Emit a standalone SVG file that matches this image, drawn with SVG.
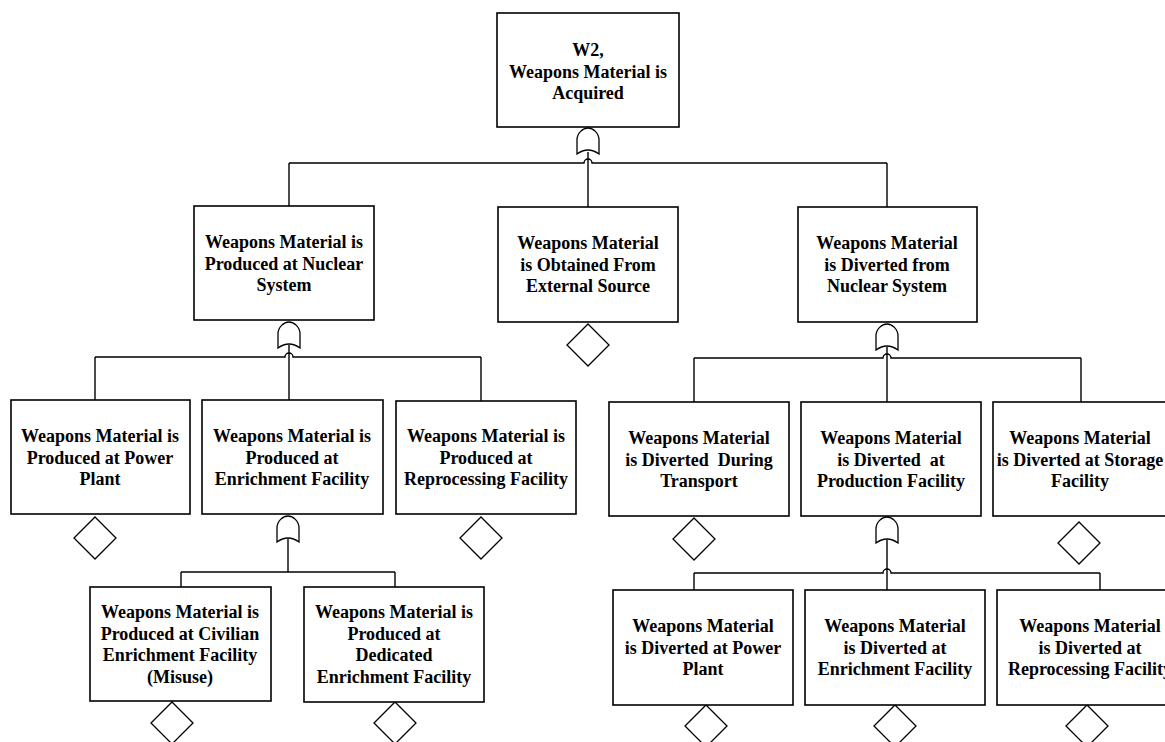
<svg xmlns="http://www.w3.org/2000/svg" width="1165" height="742" viewBox="0 0 1165 742">
  <defs>
    <style>
      .box { fill: #fff; stroke: #000; stroke-width: 1.6; }
      .gate { fill: #fff; stroke: #000; stroke-width: 1.3; }
      .diamond { fill: #fff; stroke: #000; stroke-width: 1.3; }
      .wire { fill: none; stroke: #000; stroke-width: 1.4; }
      .lbl { font-family: "Liberation Serif", "Times New Roman", serif; font-weight: bold; font-size: 18px; fill: #000; text-anchor: middle; white-space: pre; }
    </style>
    <!-- OR gate, origin at its apex -->
    <path id="orgate" d="M -11,26 L -11,12 C -11,5 -5,0 0,0 C 5,0 11,5 11,12 L 11,26 Q 0,18 -11,26 Z"/>
    <!-- undeveloped event diamond, centred on origin -->
    <path id="undev" d="M 0,-21 L 21,0 L 0,21 L -21,0 Z"/>
  </defs>
  <rect width="1165" height="742" fill="#fff"/>

  <!-- connectors -->
  <g id="connectors" class="wire">
    <!-- top OR gate -->
    <path d="M 289,163 H 584 A 4 4 0 0 1 592,163 H 887"/>
    <path d="M 588,152 V 207"/>
    <path d="M 289,163 V 206"/>
    <path d="M 887,163 V 207"/>
    <!-- produced at nuclear system -->
    <path d="M 95,357 H 285 A 4 4 0 0 1 293,357 H 481"/>
    <path d="M 289,345 V 401"/>
    <path d="M 95,357 V 400"/>
    <path d="M 481,357 V 401"/>
    <!-- diverted from nuclear system -->
    <path d="M 694,358 H 883 A 4 4 0 0 1 891,358 H 1081"/>
    <path d="M 887,347 V 402"/>
    <path d="M 694,358 V 402"/>
    <path d="M 1081,358 V 402"/>
    <!-- produced at enrichment facility -->
    <path d="M 181,572 H 395"/>
    <path d="M 288,539 V 572"/>
    <path d="M 181,572 V 587"/>
    <path d="M 395,572 V 587"/>
    <!-- diverted at production facility -->
    <path d="M 694,573 H 883 A 4 4 0 0 1 891,573 H 1100"/>
    <path d="M 887,540 V 590"/>
    <path d="M 694,573 V 590"/>
    <path d="M 1100,573 V 590"/>
  </g>

  <!-- gates -->
  <g id="gates">
    <use href="#orgate" class="gate" x="588" y="128"/>
    <use href="#orgate" class="gate" x="289" y="322"/>
    <use href="#orgate" class="gate" x="887" y="324"/>
    <use href="#orgate" class="gate" x="288" y="516"/>
    <use href="#orgate" class="gate" x="887" y="517"/>
  </g>

  <!-- undeveloped events -->
  <g id="undeveloped">
    <use href="#undev" class="diamond" x="588" y="345"/>
    <use href="#undev" class="diamond" x="95" y="538"/>
    <use href="#undev" class="diamond" x="481" y="538"/>
    <use href="#undev" class="diamond" x="694" y="539"/>
    <use href="#undev" class="diamond" x="1079" y="543"/>
    <use href="#undev" class="diamond" x="172" y="723"/>
    <use href="#undev" class="diamond" x="395" y="723"/>
    <use href="#undev" class="diamond" x="706" y="726"/>
    <use href="#undev" class="diamond" x="895" y="726"/>
    <use href="#undev" class="diamond" x="1087" y="726"/>
  </g>

  <g id="w2">
    <rect class="box" x="497" y="13" width="182" height="114"/>
    <text class="lbl" x="588" y="56"><tspan x="588">W2,</tspan><tspan x="588" dy="21.5">Weapons Material is</tspan><tspan x="588" dy="21.5">Acquired</tspan></text>
  </g>

  <g id="produced-nuclear">
    <rect class="box" x="194" y="206" width="180" height="114"/>
    <text class="lbl" x="284" y="248"><tspan x="284">Weapons Material is</tspan><tspan x="284" dy="21.5">Produced at Nuclear</tspan><tspan x="284" dy="21.5">System</tspan></text>
  </g>

  <g id="obtained-external">
    <rect class="box" x="498" y="207" width="180" height="115"/>
    <text class="lbl" x="588" y="249"><tspan x="588">Weapons Material</tspan><tspan x="588" dy="21.5">is Obtained From</tspan><tspan x="588" dy="21.5">External Source</tspan></text>
  </g>

  <g id="diverted-nuclear">
    <rect class="box" x="798" y="207" width="179" height="115"/>
    <text class="lbl" x="887" y="249"><tspan x="887">Weapons Material</tspan><tspan x="887" dy="21.5">is Diverted from</tspan><tspan x="887" dy="21.5">Nuclear System</tspan></text>
  </g>

  <g id="produced-power">
    <rect class="box" x="11" y="400" width="179" height="114"/>
    <text class="lbl" x="100" y="442"><tspan x="100">Weapons Material is</tspan><tspan x="100" dy="21.5">Produced at Power</tspan><tspan x="100" dy="21.5">Plant</tspan></text>
  </g>

  <g id="produced-enrichment">
    <rect class="box" x="202" y="400" width="181" height="114"/>
    <text class="lbl" x="292" y="442"><tspan x="292">Weapons Material is</tspan><tspan x="292" dy="21.5">Produced at</tspan><tspan x="292" dy="21.5">Enrichment Facility</tspan></text>
  </g>

  <g id="produced-reprocessing">
    <rect class="box" x="396" y="401" width="180" height="113"/>
    <text class="lbl" x="486" y="442"><tspan x="486">Weapons Material is</tspan><tspan x="486" dy="21.5">Produced at</tspan><tspan x="486" dy="21.5">Reprocessing Facility</tspan></text>
  </g>

  <g id="diverted-transport">
    <rect class="box" x="609" y="402" width="180" height="114"/>
    <text class="lbl" x="699" y="444"><tspan x="699">Weapons Material</tspan><tspan x="699" dy="21.5">is Diverted  During</tspan><tspan x="699" dy="21.5">Transport</tspan></text>
  </g>

  <g id="diverted-production">
    <rect class="box" x="801" y="402" width="180" height="114"/>
    <text class="lbl" x="891" y="444"><tspan x="891">Weapons Material</tspan><tspan x="891" dy="21.5">is Diverted  at</tspan><tspan x="891" dy="21.5">Production Facility</tspan></text>
  </g>

  <g id="diverted-storage">
    <rect class="box" x="993" y="402" width="180" height="114"/>
    <text class="lbl" x="1080" y="444"><tspan x="1080">Weapons Material</tspan><tspan x="1080" dy="21.5">is Diverted at Storage</tspan><tspan x="1080" dy="21.5">Facility</tspan></text>
  </g>

  <g id="produced-civilian">
    <rect class="box" x="90" y="587" width="181" height="114"/>
    <text class="lbl" x="180" y="618"><tspan x="180">Weapons Material is</tspan><tspan x="180" dy="21.5">Produced at Civilian</tspan><tspan x="180" dy="21.5">Enrichment Facility</tspan><tspan x="180" dy="21.5">(Misuse)</tspan></text>
  </g>

  <g id="produced-dedicated">
    <rect class="box" x="304" y="587" width="180" height="115"/>
    <text class="lbl" x="394" y="618"><tspan x="394">Weapons Material is</tspan><tspan x="394" dy="21.5">Produced at</tspan><tspan x="394" dy="21.5">Dedicated</tspan><tspan x="394" dy="21.5">Enrichment Facility</tspan></text>
  </g>

  <g id="diverted-power">
    <rect class="box" x="613" y="590" width="180" height="115"/>
    <text class="lbl" x="703" y="632"><tspan x="703">Weapons Material</tspan><tspan x="703" dy="21.5">is Diverted at Power</tspan><tspan x="703" dy="21.5">Plant</tspan></text>
  </g>

  <g id="diverted-enrichment">
    <rect class="box" x="805" y="590" width="180" height="115"/>
    <text class="lbl" x="895" y="632"><tspan x="895">Weapons Material</tspan><tspan x="895" dy="21.5">is Diverted at</tspan><tspan x="895" dy="21.5">Enrichment Facility</tspan></text>
  </g>

  <g id="diverted-reprocessing">
    <rect class="box" x="997" y="590" width="180" height="115"/>
    <text class="lbl" x="1090" y="632"><tspan x="1090">Weapons Material</tspan><tspan x="1090" dy="21.5">is Diverted at</tspan><tspan x="1090" dy="21.5">Reprocessing Facility</tspan></text>
  </g>
</svg>
